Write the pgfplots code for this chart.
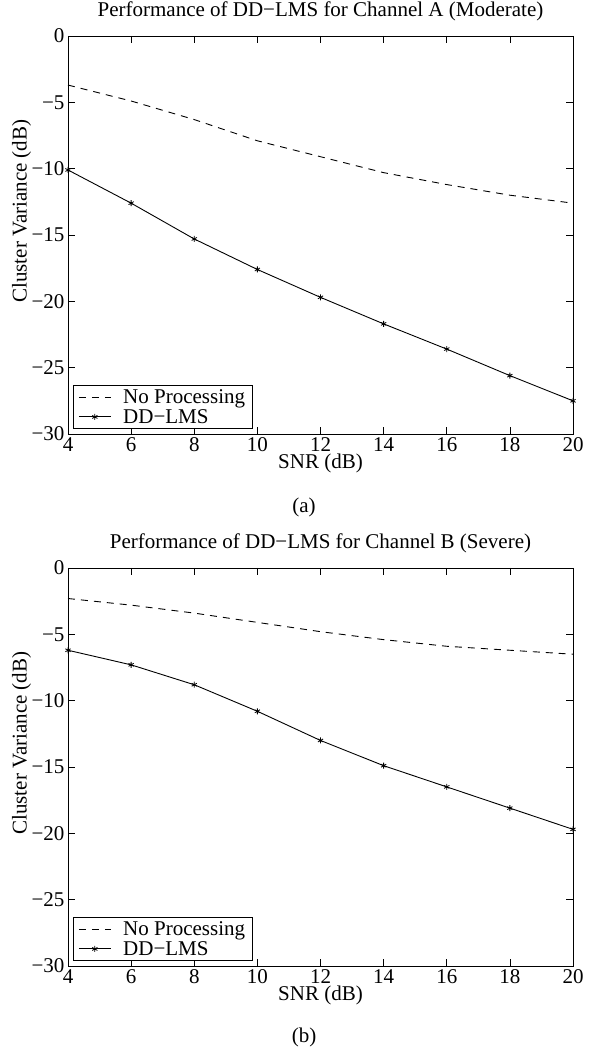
\documentclass[border=0pt]{standalone}
\usepackage{fontspec}
\setmainfont{Liberation Serif}
\usepackage{pgfplots}
\pgfplotsset{compat=1.18}

\pgfplotstableread{
snr  nop    dd
4    -3.7   -10.1
6    -4.9   -12.6
8    -6.3   -15.3
10   -7.9   -17.6
12   -9.1   -19.7
14   -10.3  -21.7
16   -11.2  -23.6
18   -12.0  -25.6
20   -12.6  -27.5
}\chanA

\pgfplotstableread{
snr  nop    dd
4    -2.3   -6.2
6    -2.8   -7.3
8    -3.4   -8.8
10   -4.1   -10.8
12   -4.8   -13.0
14   -5.4   -14.9
16   -5.9   -16.5
18   -6.2   -18.1
20   -6.5   -19.7
}\chanB

\pgfplotsset{
  matlab/.style={
    scale only axis,
    width=505pt, height=398pt,
    xmin=4, xmax=20, ymin=-30, ymax=0,
    xtick={4,6,...,20},
    xticklabels={4,6,8,10,12,14,16,18,20},
    ytick={-30,-25,...,0},
    yticklabels={−30,−25,−20,−15,−10,−5,0},
    tick align=inside,
    major tick length=7pt,
    axis line style={line width=0.8pt},
    every tick/.style={black, line width=0.7pt},
    font=\fontsize{21}{24}\selectfont,
    title style={at={(axis description cs:0.5,1)}, anchor=center, yshift=19pt},
    xlabel={SNR (dB)},
    xlabel style={at={(axis description cs:0.5,0)}, anchor=center, yshift=-29pt},
    ylabel={Cluster Variance (dB)},
    ylabel style={at={(axis description cs:-0.092,0.56)}, anchor=center},
    clip=false,
    legend cell align=left,
    legend style={at={(axis description cs:0,0)}, anchor=south west,
      xshift=5pt, yshift=5pt, draw=black, line width=0.7pt,
      inner xsep=5pt, inner ysep=2pt, row sep=0pt,
      /tikz/every odd column/.append style={column sep=10pt},
      font=\fontsize{21}{24}\selectfont},
    legend image code/.code={
      \draw[mark repeat=2, mark phase=2, #1]
        plot coordinates {(0pt,0pt) (16pt,0pt) (32pt,0pt)};},
    nop/.style={black, line width=0.9pt, dash pattern=on 7pt off 6pt, no markers},
    dd/.style={black, line width=0.9pt, mark=asterisk, mark size=3pt,
      mark options={solid, line width=0.8pt}},
  }
}

\begin{document}
\begin{tikzpicture}
\path[use as bounding box, fill=white] (0pt,0pt) rectangle (592pt,1049pt);

\begin{axis}[matlab, at={(68pt,615pt)}, anchor=south west,
  title={Performance of DD−LMS for Channel A (Moderate)}]
\addplot[nop] table[x=snr, y=nop] {\chanA};
\addplot[dd] table[x=snr, y=dd] {\chanA};
\legend{No Processing, DD−LMS}
\end{axis}

\begin{axis}[matlab, at={(68pt,83pt)}, anchor=south west,
  title={Performance of DD−LMS for Channel B (Severe)}]
\addplot[nop] table[x=snr, y=nop] {\chanB};
\addplot[dd] table[x=snr, y=dd] {\chanB};
\legend{No Processing, DD−LMS}
\end{axis}

\node[font=\fontsize{21}{24}\selectfont] at (304pt,542pt) {(a)};
\node[font=\fontsize{21}{24}\selectfont] at (304pt,12pt) {(b)};
\end{tikzpicture}
\end{document}
